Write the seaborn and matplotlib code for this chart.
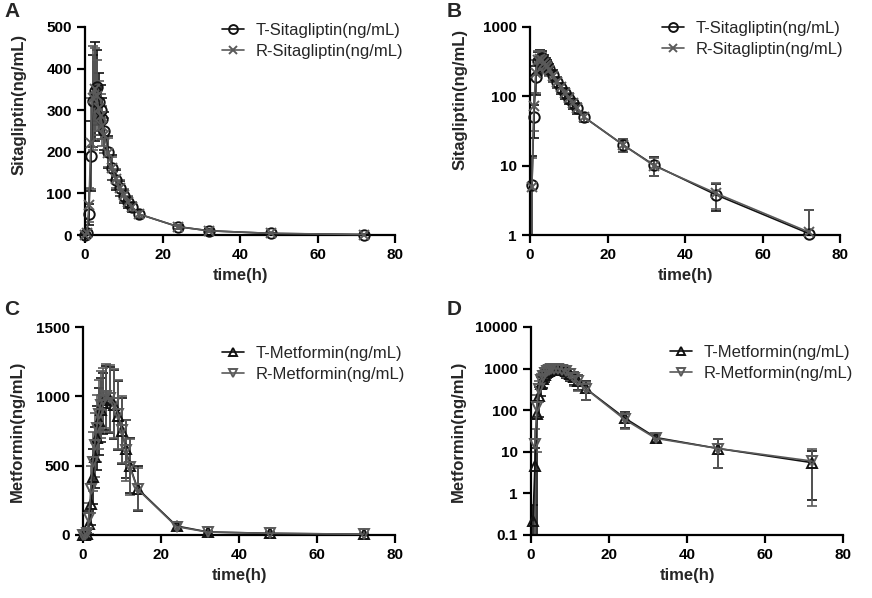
import matplotlib
matplotlib.use('Agg')
import matplotlib.pyplot as plt
from matplotlib import ticker
import numpy as np
import pandas as pd
import seaborn as sns

# sampling times (h)
time_h = [0, 0.5, 1, 1.5, 2, 2.5, 3, 3.5, 4, 4.5, 5, 6, 7, 8, 9, 10, 11, 12, 14, 24, 32, 48, 72]

# sitagliptin mean / SD (ng/mL)
t_sita = [0, 5.2, 50, 190, 322, 345, 355, 320, 300, 280, 250, 200, 162, 133, 112, 93, 79, 67, 50, 20, 10.2, 3.8, 1.05]
t_sita_sd = [0, 8.8, 25, 85, 110, 120, 90, 70, 60, 50, 45, 38, 30, 24, 19, 16, 13, 11, 8, 4.5, 3.2, 1.6, 1.25]
r_sita = [0, 5.0, 72, 220, 330, 350, 335, 305, 285, 262, 240, 198, 160, 135, 113, 95, 80, 68, 50, 20, 10, 4.0, 1.1]
r_sita_sd = [0, 8.0, 40, 110, 125, 100, 85, 65, 55, 48, 42, 35, 28, 23, 19, 16, 13, 11, 8, 4.5, 3.0, 1.6, 1.2]

# metformin mean / SD (ng/mL)
t_met = [0, 0.22, 4.5, 80, 220, 420, 560, 700, 820, 900, 950, 990, 975, 940, 860, 750, 620, 500, 335, 65, 22, 12, 5.5]
t_met_sd = [0, 0.3, 8, 90, 150, 200, 220, 230, 240, 230, 220, 230, 240, 250, 250, 240, 210, 200, 160, 28, 5, 8, 4.8]
r_met = [0, 0, 15, 120, 330, 530, 650, 770, 870, 940, 975, 1000, 985, 950, 870, 760, 610, 490, 330, 60, 21, 12, 6]
r_met_sd = [0, 0, 20, 110, 170, 210, 230, 240, 250, 240, 230, 230, 240, 250, 250, 240, 220, 200, 150, 25, 5, 8, 5.5]

sns.set_style('ticks')
plt.rcParams['font.family'] = ['Liberation Sans', 'DejaVu Sans']

fig = plt.figure(figsize=(8.72, 5.98), dpi=100)
W, H = 872, 598


def px_axes(left, top, right, bottom):
    return fig.add_axes([left / W, 1 - bottom / H, (right - left) / W, (bottom - top) / H])


def draw(ax, series, log, ylim, yticks, ylabel, ylab_pos, legend_xy):
    for label, mean, sd, marker, color in series:
        df = pd.DataFrame({'time': time_h, 'conc': mean, 'sd': sd})
        if log:
            df = df[df['conc'] > 0]
            low = np.where(df['conc'] - df['sd'] > 0, df['sd'], df['conc'] - 1e-4)
        else:
            low = df['sd']
        ax.errorbar(df['time'], df['conc'], yerr=[low, df['sd']], fmt='none',
                    ecolor=color, elinewidth=1.2, capsize=3.5, capthick=1.2,
                    clip_on=True, zorder=2)
        sns.lineplot(data=df, x='time', y='conc', ax=ax, color=color,
                     marker=marker, markersize=7.5, markerfacecolor='none',
                     markeredgecolor=color, markeredgewidth=1.4,
                     linewidth=1.2, label=label, clip_on=False, zorder=3)
    if log:
        ax.set_yscale('log')
        ax.yaxis.set_minor_locator(ticker.NullLocator())
    ax.set_xlim(0, 80)
    ax.set_ylim(*ylim)
    ax.set_xticks([0, 20, 40, 60, 80])
    ax.set_yticks(yticks)
    ax.yaxis.set_major_formatter(ticker.FormatStrFormatter('%g'))
    ax.set_xlabel('time(h)', fontsize=12, fontweight='bold', labelpad=4)
    ax.set_ylabel(ylabel, fontsize=12, fontweight='bold')
    ax.yaxis.set_label_coords(*ylab_pos)
    sns.despine(ax=ax)
    for s in ['left', 'bottom']:
        ax.spines[s].set_linewidth(1.6)
        ax.spines[s].set_color('black')
    ax.tick_params(width=1.6, length=5.5, labelsize=11, colors='black', pad=4)
    for t in ax.get_xticklabels() + ax.get_yticklabels():
        t.set_fontweight('bold')
    ax.legend(loc='upper left', bbox_to_anchor=(legend_xy[0] / W, 1 - legend_xy[1] / H),
              bbox_transform=fig.transFigure, frameon=False, fontsize=12,
              handlelength=1.3, handletextpad=0.7, labelspacing=0.35,
              borderpad=0, borderaxespad=0, markerscale=0.85)


axA = px_axes(85, 27, 395, 235)
axB = px_axes(530, 27, 840, 235)
axC = px_axes(83, 327, 395, 535)
axD = px_axes(531, 327, 843, 535)

dark, grey = '#111111', '#5a5a5a'

draw(axA, [('T-Sitagliptin(ng/mL)', t_sita, t_sita_sd, 'o', dark),
           ('R-Sitagliptin(ng/mL)', r_sita, r_sita_sd, 'x', grey)],
     False, (0, 500), [0, 100, 200, 300, 400, 500], 'Sitagliptin(ng/mL)',
     (-0.187, 0.63), (222, 23))
draw(axB, [('T-Sitagliptin(ng/mL)', t_sita, t_sita_sd, 'o', dark),
           ('R-Sitagliptin(ng/mL)', r_sita, r_sita_sd, 'x', grey)],
     True, (1, 1000), [1, 10, 100, 1000], 'Sitagliptin(ng/mL)',
     (-0.2, 0.65), (662, 21))
draw(axC, [('T-Metformin(ng/mL)', t_met, t_met_sd, '^', dark),
           ('R-Metformin(ng/mL)', r_met, r_met_sd, 'v', grey)],
     False, (0, 1500), [0, 500, 1000, 1500], 'Metformin(ng/mL)',
     (-0.186, 0.5), (222, 346))
draw(axD, [('T-Metformin(ng/mL)', t_met, t_met_sd, '^', dark),
           ('R-Metformin(ng/mL)', r_met, r_met_sd, 'v', grey)],
     True, (0.1, 10000), [0.1, 1, 10, 100, 1000, 10000], 'Metformin(ng/mL)',
     (-0.21, 0.5), (670, 345))

for letter, x, y in [('A', 4, 2), ('B', 447, 2), ('C', 4, 300), ('D', 447, 300)]:
    fig.text(x / W, 1 - y / H, letter, fontsize=15, fontweight='bold', va='top', ha='left')

fig.savefig('out.png', dpi=100)
